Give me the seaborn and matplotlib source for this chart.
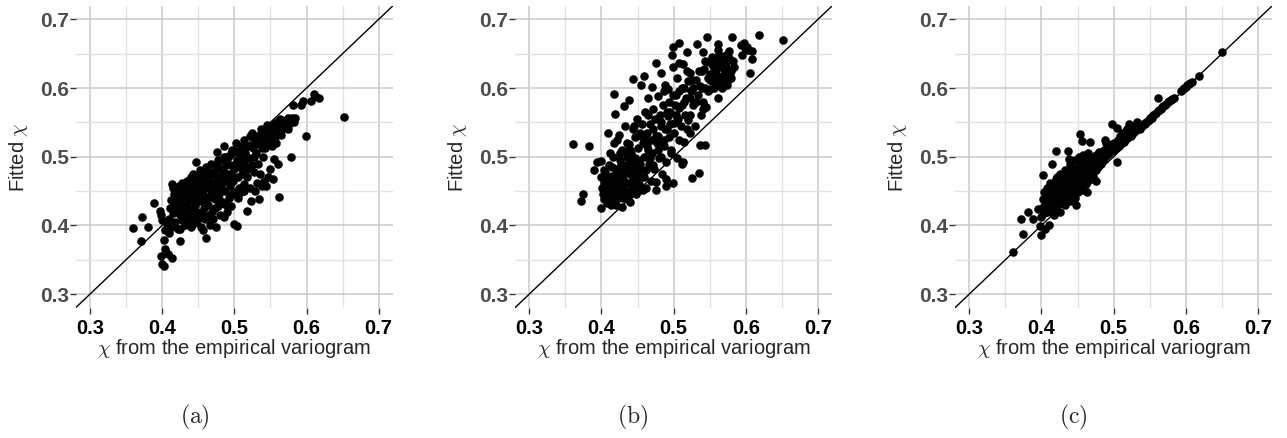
import matplotlib
matplotlib.use("Agg")
import matplotlib.pyplot as plt
import seaborn as sns
import pandas as pd

# Panel (a): empirical vs fitted chi
a_x = [0.360, 0.371, 0.372, 0.381, 0.388, 0.397, 0.399, 0.400, 0.403, 0.400, 0.402, 0.404, 0.408, 0.413, 0.398, 0.404, 0.406, 0.409,
       0.410, 0.411, 0.412, 0.413, 0.414, 0.415, 0.416, 0.417, 0.418, 0.419, 0.420, 0.421, 0.422, 0.423, 0.424, 0.425, 0.425, 0.426, 0.427, 0.428, 0.429,
       0.430, 0.431, 0.432, 0.433, 0.434, 0.435, 0.436, 0.437, 0.438, 0.439, 0.440, 0.440, 0.441, 0.442, 0.443, 0.444, 0.445, 0.446, 0.447, 0.447, 0.448, 0.449,
       0.450, 0.451, 0.452, 0.453, 0.454, 0.455, 0.456, 0.457, 0.457, 0.458, 0.459, 0.460, 0.461, 0.461, 0.462, 0.463, 0.464, 0.465, 0.466, 0.467, 0.468, 0.469,
       0.470, 0.471, 0.472, 0.473, 0.474, 0.475, 0.476, 0.476, 0.477, 0.478, 0.479, 0.480, 0.481, 0.482, 0.483, 0.484, 0.485, 0.485, 0.486, 0.487, 0.488, 0.489,
       0.490, 0.491, 0.492, 0.493, 0.494, 0.495, 0.496, 0.497, 0.498, 0.499, 0.500, 0.501, 0.502, 0.503, 0.504, 0.505, 0.506, 0.507, 0.508, 0.509,
       0.510, 0.511, 0.512, 0.513, 0.514, 0.515, 0.516, 0.517, 0.518, 0.519, 0.520, 0.521, 0.522, 0.523, 0.524, 0.525, 0.526, 0.527, 0.528, 0.529,
       0.530, 0.531, 0.532, 0.533, 0.534, 0.535, 0.536, 0.537, 0.538, 0.539, 0.540, 0.541, 0.542, 0.543, 0.544, 0.545, 0.546, 0.547, 0.548, 0.549,
       0.550, 0.551, 0.552, 0.553, 0.554, 0.555, 0.556, 0.557, 0.558, 0.559, 0.560, 0.561, 0.562, 0.563, 0.564, 0.565, 0.566, 0.567,
       0.570, 0.572, 0.574, 0.575, 0.576, 0.578, 0.578, 0.580, 0.581, 0.582, 0.584, 0.593, 0.595, 0.599, 0.606, 0.610, 0.612, 0.618, 0.652,
       0.418, 0.422, 0.426, 0.430, 0.434, 0.438, 0.442, 0.446, 0.421, 0.427, 0.433, 0.439, 0.445, 0.451, 0.424, 0.436, 0.448, 0.455, 0.462, 0.468,
       0.415, 0.419, 0.423, 0.427, 0.431, 0.435, 0.439, 0.443, 0.447, 0.451, 0.455, 0.459, 0.463, 0.467, 0.471, 0.475, 0.479, 0.483, 0.487, 0.491,
       0.495, 0.499, 0.503, 0.507, 0.511, 0.515, 0.519, 0.523, 0.527, 0.531, 0.535, 0.539, 0.543, 0.547, 0.551, 0.555, 0.560, 0.565, 0.570, 0.575,
       0.425, 0.433, 0.441, 0.449, 0.457, 0.465, 0.473, 0.481, 0.489, 0.497, 0.505, 0.513, 0.429, 0.437, 0.445, 0.453, 0.461, 0.469, 0.477, 0.485]
a_y = [0.396, 0.377, 0.412, 0.398, 0.433, 0.421, 0.355, 0.344, 0.341, 0.408, 0.378, 0.366, 0.358, 0.353, 0.415, 0.394, 0.402, 0.389,
       0.410, 0.425, 0.437, 0.460, 0.398, 0.418, 0.445, 0.432, 0.405, 0.452, 0.422, 0.440, 0.395, 0.458, 0.430, 0.377, 0.415, 0.447, 0.408, 0.462, 0.425,
       0.438, 0.400, 0.452, 0.418, 0.465, 0.430, 0.445, 0.410, 0.458, 0.423, 0.470, 0.397, 0.437, 0.452, 0.415, 0.462, 0.428, 0.444, 0.492, 0.405, 0.455, 0.436,
       0.470, 0.418, 0.448, 0.460, 0.398, 0.435, 0.475, 0.394, 0.452, 0.425, 0.465, 0.442, 0.381, 0.485, 0.412, 0.456, 0.430, 0.470, 0.400, 0.447, 0.490, 0.420,
       0.460, 0.410, 0.476, 0.438, 0.452, 0.398, 0.507, 0.468, 0.428, 0.485, 0.445, 0.415, 0.470, 0.458, 0.495, 0.432, 0.515, 0.478, 0.412, 0.450, 0.488, 0.465,
       0.420, 0.500, 0.440, 0.475, 0.458, 0.488, 0.428, 0.510, 0.465, 0.402, 0.482, 0.448, 0.520, 0.495, 0.399, 0.470, 0.455, 0.505, 0.485, 0.448,
       0.515, 0.475, 0.495, 0.460, 0.525, 0.505, 0.485, 0.421, 0.470, 0.515, 0.498, 0.455, 0.530, 0.436, 0.535, 0.488, 0.512, 0.477, 0.450, 0.522,
       0.505, 0.462, 0.530, 0.490, 0.438, 0.518, 0.475, 0.540, 0.458, 0.525, 0.500, 0.465, 0.535, 0.512, 0.458, 0.546, 0.520, 0.470, 0.532, 0.482,
       0.525, 0.540, 0.515, 0.468, 0.535, 0.497, 0.545, 0.528, 0.520, 0.550, 0.538, 0.490, 0.442, 0.555, 0.532, 0.548, 0.540, 0.552,
       0.545, 0.550, 0.555, 0.540, 0.548, 0.499, 0.552, 0.556, 0.576, 0.550, 0.556, 0.576, 0.581, 0.530, 0.581, 0.591, 0.588, 0.586, 0.558,
       0.440, 0.448, 0.436, 0.452, 0.442, 0.448, 0.440, 0.458, 0.430, 0.420, 0.425, 0.440, 0.450, 0.460, 0.452, 0.418, 0.420, 0.445, 0.438, 0.475,
       0.455, 0.440, 0.420, 0.450, 0.428, 0.455, 0.445, 0.475, 0.420, 0.435, 0.455, 0.410, 0.440, 0.462, 0.448, 0.488, 0.460, 0.475, 0.500, 0.468,
       0.505, 0.470, 0.508, 0.490, 0.505, 0.495, 0.482, 0.515, 0.500, 0.520, 0.530, 0.512, 0.525, 0.540, 0.530, 0.548, 0.545, 0.553, 0.552, 0.556,
       0.395, 0.405, 0.400, 0.410, 0.415, 0.415, 0.425, 0.435, 0.430, 0.445, 0.440, 0.450, 0.445, 0.465, 0.470, 0.480, 0.475, 0.478, 0.495, 0.500]

# Panel (b)
b_x = [0.361, 0.382, 0.371, 0.374, 0.389, 0.394, 0.400, 0.399,
       0.400, 0.401, 0.402, 0.403, 0.404, 0.405, 0.406, 0.407, 0.408, 0.409, 0.410, 0.411, 0.412, 0.413, 0.414, 0.415, 0.416, 0.417, 0.417, 0.418, 0.419, 0.419,
       0.420, 0.421, 0.422, 0.423, 0.424, 0.424, 0.425, 0.426, 0.427, 0.428, 0.429, 0.430, 0.431, 0.431, 0.432, 0.433, 0.434, 0.435, 0.436, 0.437, 0.438, 0.438,
       0.439, 0.440, 0.440, 0.441, 0.442, 0.443, 0.443, 0.444, 0.445, 0.446, 0.447, 0.448, 0.449, 0.450, 0.451, 0.452, 0.453, 0.454, 0.455, 0.455, 0.456, 0.457,
       0.458, 0.459, 0.459, 0.460, 0.461, 0.462, 0.463, 0.464, 0.465, 0.466, 0.467, 0.468, 0.469, 0.470, 0.470,
       0.471, 0.472, 0.473, 0.474, 0.475, 0.476, 0.476, 0.477, 0.478, 0.479, 0.480, 0.481, 0.482, 0.483, 0.483, 0.484, 0.485, 0.486, 0.487, 0.488, 0.488, 0.489,
       0.490, 0.490, 0.491, 0.492, 0.492, 0.493, 0.494, 0.495, 0.496, 0.497, 0.498, 0.499, 0.499, 0.499, 0.500, 0.501, 0.502, 0.503, 0.504, 0.505, 0.506, 0.507,
       0.508, 0.508, 0.508, 0.510, 0.511, 0.512, 0.513, 0.513, 0.514, 0.515, 0.516, 0.517, 0.518, 0.519, 0.520, 0.520,
       0.522, 0.522, 0.522, 0.524, 0.525, 0.526, 0.527, 0.529, 0.531, 0.533, 0.534, 0.535, 0.536, 0.536, 0.538, 0.539, 0.540, 0.541, 0.541, 0.542, 0.543, 0.544,
       0.545, 0.546, 0.547, 0.549, 0.550, 0.551, 0.553, 0.554, 0.555, 0.557, 0.559, 0.560, 0.561, 0.561, 0.561, 0.562, 0.563, 0.564, 0.566, 0.567, 0.568, 0.570,
       0.571, 0.572, 0.573, 0.575, 0.577, 0.577, 0.579, 0.581, 0.582, 0.583,
       0.594, 0.595, 0.597, 0.599, 0.602, 0.603, 0.606, 0.608, 0.609, 0.618, 0.651,
       0.405, 0.410, 0.415, 0.420, 0.425, 0.430, 0.435, 0.440, 0.445, 0.412, 0.418, 0.428, 0.436, 0.444, 0.452, 0.460, 0.556, 0.565, 0.570, 0.578, 0.552, 0.574,
       0.403, 0.407, 0.411, 0.415, 0.419, 0.423, 0.427, 0.431, 0.435, 0.439, 0.443, 0.447, 0.451, 0.455, 0.459, 0.463, 0.467, 0.471, 0.475, 0.479,
       0.483, 0.487, 0.491, 0.495, 0.499, 0.503, 0.507, 0.511, 0.515, 0.519, 0.523, 0.527, 0.531, 0.535, 0.539, 0.543, 0.547, 0.551, 0.555, 0.559,
       0.563, 0.567, 0.571, 0.575, 0.579, 0.410, 0.420, 0.430, 0.440, 0.450, 0.425, 0.435, 0.445, 0.455, 0.465]
b_y = [0.518, 0.516, 0.435, 0.446, 0.481, 0.493, 0.494, 0.426,
       0.470, 0.455, 0.445, 0.462, 0.438, 0.478, 0.450, 0.432, 0.466, 0.534, 0.445, 0.488, 0.458, 0.430, 0.472, 0.440, 0.500, 0.591, 0.455, 0.468, 0.562, 0.435,
       0.482, 0.448, 0.525, 0.462, 0.532, 0.442, 0.495, 0.475, 0.455, 0.510, 0.427, 0.468, 0.574, 0.488, 0.450, 0.545, 0.478, 0.500, 0.462, 0.438, 0.582, 0.518,
       0.492, 0.434, 0.475, 0.505, 0.455, 0.613, 0.540, 0.485, 0.465, 0.528, 0.498, 0.445, 0.555, 0.478, 0.512, 0.460, 0.535, 0.490, 0.605, 0.470, 0.548, 0.520,
       0.452, 0.618, 0.500, 0.565, 0.480, 0.455, 0.535, 0.510, 0.585, 0.490, 0.548, 0.465, 0.525, 0.602, 0.505,
       0.570, 0.540, 0.482, 0.555, 0.463, 0.451, 0.637, 0.520, 0.530, 0.588, 0.498, 0.560, 0.545, 0.622, 0.500, 0.475, 0.575, 0.515, 0.595, 0.604, 0.540, 0.468,
       0.457, 0.493, 0.565, 0.599, 0.559, 0.528, 0.580, 0.548, 0.510, 0.505, 0.648, 0.659, 0.630, 0.461, 0.549, 0.534, 0.576, 0.590, 0.615, 0.498, 0.555, 0.665,
       0.637, 0.571, 0.525, 0.545, 0.490, 0.600, 0.635, 0.493, 0.580, 0.522, 0.560, 0.586, 0.653, 0.540, 0.554, 0.610,
       0.622, 0.561, 0.535, 0.595, 0.612, 0.469, 0.575, 0.545, 0.611, 0.664, 0.590, 0.476, 0.603, 0.517, 0.561, 0.625, 0.580, 0.653, 0.569, 0.627, 0.517, 0.600,
       0.573, 0.675, 0.615, 0.638, 0.620, 0.598, 0.645, 0.632, 0.610, 0.625, 0.620, 0.640, 0.664, 0.656, 0.586, 0.605, 0.630, 0.615, 0.637, 0.600, 0.645, 0.628,
       0.622, 0.648, 0.632, 0.612, 0.654, 0.643, 0.625, 0.675, 0.640, 0.630,
       0.662, 0.648, 0.665, 0.658, 0.659, 0.656, 0.622, 0.642, 0.654, 0.677, 0.670,
       0.458, 0.465, 0.448, 0.458, 0.470, 0.452, 0.485, 0.462, 0.475, 0.505, 0.520, 0.480, 0.508, 0.495, 0.490, 0.525, 0.600, 0.608, 0.640, 0.618, 0.612, 0.605,
       0.480, 0.462, 0.450, 0.485, 0.472, 0.440, 0.490, 0.462, 0.448, 0.510, 0.470, 0.455, 0.495, 0.482, 0.470, 0.515, 0.498, 0.488, 0.530, 0.510,
       0.550, 0.525, 0.540, 0.565, 0.590, 0.560, 0.595, 0.575, 0.600, 0.625, 0.585, 0.600, 0.580, 0.625, 0.600, 0.640, 0.595, 0.612, 0.640, 0.605,
       0.648, 0.618, 0.635, 0.645, 0.615, 0.470, 0.430, 0.440, 0.445, 0.450, 0.505, 0.520, 0.545, 0.530, 0.560]

# Panel (c)
c_x = [0.361, 0.371, 0.374, 0.381, 0.388, 0.395, 0.399, 0.398, 0.410, 0.402, 0.414, 0.420, 0.437, 0.438, 0.454, 0.456, 0.467, 0.448, 0.463, 0.476,
       0.488, 0.490, 0.498, 0.504, 0.504, 0.521, 0.561, 0.650, 0.618,
       0.400, 0.401, 0.402, 0.403, 0.404, 0.405, 0.406, 0.407, 0.408, 0.409, 0.410, 0.411, 0.412, 0.413, 0.414, 0.415, 0.416, 0.417, 0.418, 0.419,
       0.420, 0.421, 0.422, 0.423, 0.424, 0.425, 0.426, 0.427, 0.428, 0.429, 0.430, 0.431, 0.432, 0.433, 0.434, 0.435, 0.436, 0.437, 0.438, 0.439,
       0.440, 0.441, 0.442, 0.443, 0.444, 0.445, 0.446, 0.447, 0.448, 0.449, 0.450, 0.451, 0.452, 0.453, 0.454, 0.455, 0.456, 0.457, 0.458, 0.459,
       0.460, 0.461, 0.462, 0.463, 0.464, 0.465, 0.466, 0.467, 0.468, 0.469, 0.470, 0.471, 0.472, 0.474, 0.475, 0.476, 0.478, 0.479, 0.480, 0.482,
       0.483, 0.485, 0.486, 0.488, 0.489, 0.491, 0.492, 0.494, 0.495, 0.497, 0.498, 0.500, 0.501,
       0.503, 0.505, 0.506, 0.508, 0.509, 0.510, 0.512, 0.513, 0.515, 0.516, 0.518, 0.519, 0.520, 0.522, 0.524, 0.525, 0.527, 0.529, 0.530, 0.532,
       0.534, 0.536, 0.537, 0.539, 0.541, 0.543, 0.545, 0.547, 0.549, 0.551, 0.553, 0.555, 0.557, 0.559, 0.561, 0.563, 0.565, 0.567, 0.569, 0.571,
       0.573, 0.575, 0.577, 0.579, 0.581, 0.583, 0.594, 0.596, 0.598, 0.600, 0.602, 0.604, 0.606, 0.608,
       0.415, 0.420, 0.425, 0.430, 0.435, 0.440, 0.445, 0.450, 0.455, 0.460, 0.418, 0.428, 0.438, 0.448, 0.458, 0.468,
       0.425, 0.432, 0.440, 0.446, 0.452, 0.458, 0.464, 0.470, 0.408, 0.412, 0.416, 0.422, 0.430, 0.436, 0.442, 0.405, 0.418, 0.426, 0.434, 0.444,
       0.452, 0.460, 0.472, 0.480, 0.486, 0.510, 0.517, 0.523, 0.528, 0.533]
c_y = [0.361, 0.409, 0.388, 0.419, 0.410, 0.424, 0.386, 0.399, 0.401, 0.473, 0.490, 0.508, 0.509, 0.496, 0.533, 0.523, 0.521, 0.429, 0.448, 0.464,
       0.525, 0.520, 0.548, 0.542, 0.492, 0.547, 0.585, 0.652, 0.618,
       0.412, 0.425, 0.438, 0.448, 0.418, 0.432, 0.445, 0.455, 0.420, 0.440, 0.430, 0.452, 0.462, 0.425, 0.440, 0.450, 0.435, 0.458, 0.415, 0.445,
       0.468, 0.430, 0.452, 0.440, 0.462, 0.420, 0.448, 0.472, 0.435, 0.458, 0.445, 0.465, 0.430, 0.452, 0.475, 0.440, 0.460, 0.448, 0.470, 0.435,
       0.455, 0.478, 0.445, 0.465, 0.452, 0.482, 0.440, 0.462, 0.472, 0.455, 0.485, 0.448, 0.468, 0.478, 0.460, 0.490, 0.452, 0.472, 0.482, 0.465,
       0.495, 0.460, 0.478, 0.488, 0.470, 0.498, 0.466, 0.482, 0.492, 0.475, 0.500, 0.472, 0.487, 0.495, 0.480, 0.503, 0.485, 0.498, 0.507, 0.490,
       0.502, 0.495, 0.510, 0.500, 0.508, 0.503, 0.513, 0.505, 0.512, 0.508, 0.518, 0.510, 0.520,
       0.512, 0.518, 0.525, 0.515, 0.530, 0.520, 0.525, 0.535, 0.522, 0.530, 0.527, 0.540, 0.530, 0.533, 0.530, 0.540, 0.535, 0.538, 0.545, 0.540,
       0.542, 0.540, 0.546, 0.545, 0.548, 0.547, 0.550, 0.552, 0.553, 0.556, 0.557, 0.560, 0.562, 0.563, 0.566, 0.568, 0.570, 0.572, 0.574, 0.575,
       0.577, 0.579, 0.581, 0.582, 0.584, 0.585, 0.596, 0.598, 0.600, 0.602, 0.604, 0.606, 0.608, 0.609,
       0.448, 0.455, 0.445, 0.460, 0.452, 0.465, 0.470, 0.462, 0.475, 0.480, 0.432, 0.442, 0.455, 0.458, 0.470, 0.488,
       0.475, 0.480, 0.490, 0.495, 0.500, 0.503, 0.505, 0.488, 0.432, 0.445, 0.460, 0.470, 0.460, 0.470, 0.482, 0.395, 0.425, 0.432, 0.440, 0.448,
       0.455, 0.468, 0.478, 0.490, 0.498, 0.530, 0.538, 0.542, 0.545, 0.550]

panels = [("(a)", a_x, a_y), ("(b)", b_x, b_y), ("(c)", c_x, c_y)]
ticks = [0.3, 0.4, 0.5, 0.6, 0.7]
minor_ticks = [0.35, 0.45, 0.55, 0.65]
caption_x = [195, 633, 1073]

sns.set_theme(style="white")
plt.rcParams["font.family"] = ["Liberation Sans", "DejaVu Sans"]
plt.rcParams["mathtext.fontset"] = "cm"

W, H = 1287, 438
fig = plt.figure(figsize=(W / 100, H / 100), dpi=100)
lefts = [75.6, 514.9, 954.9]
ax_w, ax_top, ax_bot = 317.5, 5.6, 307.8

for (cap, xs, ys), left, cx in zip(panels, lefts, caption_x):
    ax = fig.add_axes([left / W, 1 - ax_bot / H, ax_w / W, (ax_bot - ax_top) / H])
    df = pd.DataFrame({"emp": xs, "fit": ys})
    ax.set_xlim(0.28, 0.72)
    ax.set_ylim(0.28, 0.72)
    ax.set_xticks(ticks)
    ax.set_yticks(ticks)
    ax.set_xticks(minor_ticks, minor=True)
    ax.set_yticks(minor_ticks, minor=True)
    ax.grid(which="major", color="#c9c9c9", linewidth=1.1)
    ax.grid(which="minor", color="#e2e2e2", linewidth=1.0)
    ax.set_axisbelow(True)
    for s in ax.spines.values():
        s.set_visible(False)
    ax.axline((0.3, 0.3), slope=1, color="black", linewidth=1.0, zorder=2)
    sns.scatterplot(data=df, x="emp", y="fit", ax=ax, color="black", s=38,
                    linewidth=0, zorder=3, legend=False)
    ax.set_xlabel("")
    ax.set_ylabel("")
    ax.set_xticklabels([f"{t:.1f}" for t in ticks], fontsize=14.5, fontweight="bold", color="black")
    ax.set_yticklabels([f"{t:.1f}" for t in ticks], fontsize=15, fontweight="bold", color="#4d4d4d")
    ax.tick_params(axis="y", which="major", length=4, width=1, color="#333333", pad=1, left=True)
    ax.tick_params(axis="x", which="major", length=4, width=1, color="#333333", pad=4, bottom=True)
    ax.tick_params(which="minor", length=0)
    # axis titles
    fig.text((left - 57.5) / W, 1 - 157 / H, r"Fitted $\chi$", rotation=90,
             ha="center", va="center", fontsize=14.5)
    fig.text((left + ax_w / 2) / W, 1 - 348 / H, r"$\chi$ from the empirical variogram",
             ha="center", va="center", fontsize=14.5)
    fig.text(cx / W, 1 - 417 / H, r"$\mathrm{" + cap + "}$", ha="center", va="center", fontsize=17)

fig.savefig("out.png", dpi=100)
